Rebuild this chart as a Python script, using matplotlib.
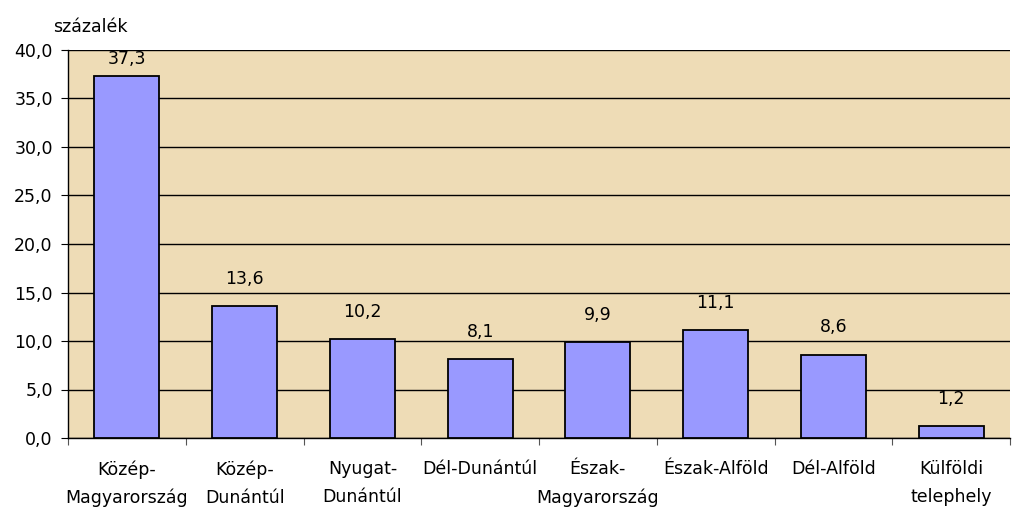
import matplotlib
matplotlib.use("Agg")
import matplotlib.pyplot as plt
import numpy as np

categories = ["Közép-\nMagyarország", "Közép-\nDunántúl", "Nyugat-\nDunántúl", "Dél-Dunántúl",
              "Észak-\nMagyarország", "Észak-Alföld", "Dél-Alföld", "Külföldi\ntelephely"]
values = [37.3, 13.6, 10.2, 8.1, 9.9, 11.1, 8.6, 1.2]
yticks = [0, 5, 10, 15, 20, 25, 30, 35, 40]

FS = 12.5
plt.rcParams['font.family'] = ['DejaVu Sans']
fig = plt.figure(figsize=(10.19, 5.08), dpi=100)
ax = fig.add_axes([68/1019, 1-438/508, (1010-68)/1019, (438-50)/508])
ax.set_facecolor('#EEDCB6')

x = np.arange(len(categories))
ax.bar(x, values, width=0.55, color='#9999FF', edgecolor='black', linewidth=1.3, zorder=3)
for xi, v in zip(x, values):
    ax.text(xi, min(v + 2.8, 39.1), f"{v:.1f}".replace('.', ','), ha='center', va='center',
            fontsize=FS, zorder=4)

ax.set_xlim(-0.5, len(categories) - 0.5)
ax.set_ylim(0, 40)
ax.set_yticks(yticks)
ax.set_yticklabels([f"{t:.1f}".replace('.', ',') for t in yticks], fontsize=FS)
ax.yaxis.grid(True, color='black', linewidth=1.0, zorder=1)
ax.set_axisbelow(True)

ax.set_xticks(np.arange(len(categories) + 1) - 0.5)
ax.set_xticklabels([])
ax.set_xticks(x, minor=True)
ax.set_xticklabels(categories, minor=True, fontsize=FS, linespacing=1.7)
ax.tick_params(axis='x', which='minor', length=0, pad=16)
ax.tick_params(axis='x', which='major', length=5, color='#555555')
ax.tick_params(axis='y', length=5, pad=6)

for s in ['top', 'right']:
    ax.spines[s].set_visible(False)
ax.spines['left'].set_linewidth(1.0)
ax.spines['bottom'].set_linewidth(1.0)

fig.text(53/1019, 1 - 27/508, "százalék", fontsize=FS, va='center', ha='left')

fig.savefig("out.png", dpi=100)
